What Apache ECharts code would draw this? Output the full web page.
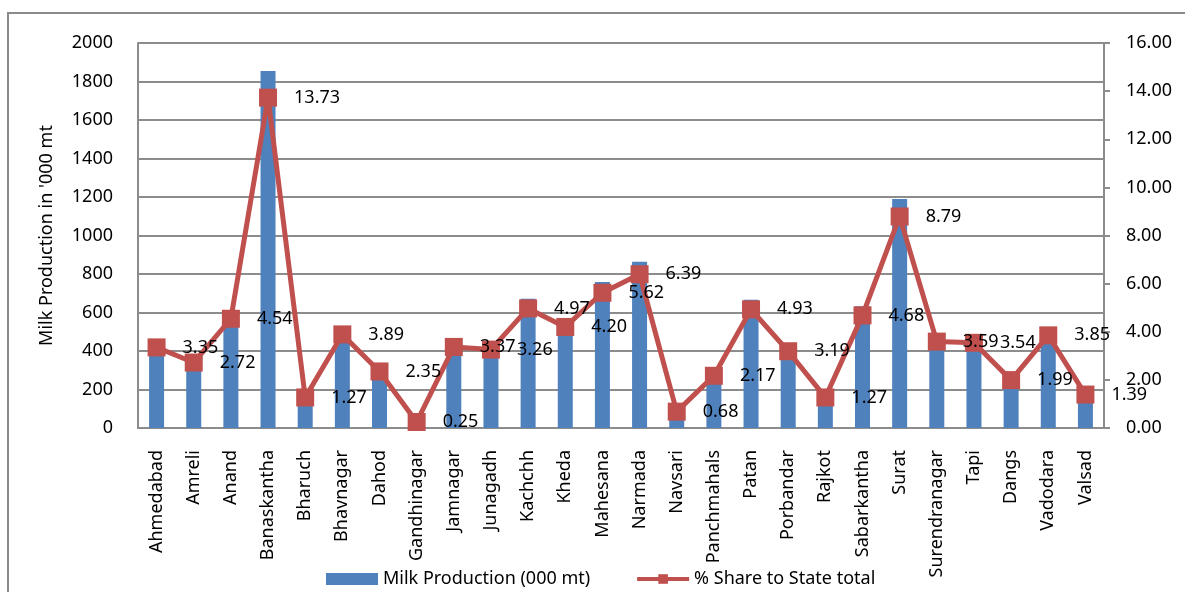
<!DOCTYPE html>
<html>
<head>
<meta charset="utf-8">
<script src="https://cdn.jsdelivr.net/npm/echarts@6/dist/echarts.min.js"></script>
<style>
  html, body { margin: 0; padding: 0; background: #fff; }
  #chart { width: 1185px; height: 592px; }
</style>
</head>
<body>
<div id="chart"></div>
<script>
// districts on the x axis
const districts = ['Ahmedabad', 'Amreli', 'Anand', 'Banaskantha', 'Bharuch', 'Bhavnagar', 'Dahod',
  'Gandhinagar', 'Jamnagar', 'Junagadh', 'Kachchh', 'Kheda', 'Mahesana', 'Narmada', 'Navsari',
  'Panchmahals', 'Patan', 'Porbandar', 'Rajkot', 'Sabarkantha', 'Surat', 'Surendranagar', 'Tapi',
  'Dangs', 'Vadodara', 'Valsad'];

// milk production, '000 mt (left axis)
const milkProduction = [452, 367, 613, 1855, 172, 526, 318, 34, 455, 440, 671, 567, 759, 864,
  92, 293, 666, 431, 172, 632, 1190, 485, 478, 269, 520, 188];

// % share to state total (right axis)
const shareToState = [3.35, 2.72, 4.54, 13.73, 1.27, 3.89, 2.35, 0.25, 3.37, 3.26, 4.97, 4.20,
  5.62, 6.39, 0.68, 2.17, 4.93, 3.19, 1.27, 4.68, 8.79, 3.59, 3.54, 1.99, 3.85, 1.39];

const FONT = 'Noto Sans';
const gridGrey = '#8c8c8c';

let myChart = echarts.init(document.getElementById('chart'));
let option = {
  animation: false,
  textStyle: { fontFamily: FONT, color: '#000' },
  graphic: [
    {
      type: 'rect',
      shape: { x: 8, y: 13, width: 1300, height: 700 },
      style: { fill: 'none', stroke: '#8a8a8a', lineWidth: 2 }
    }
  ],
  legend: {
    left: 321,
    top: 565,
    itemWidth: 52,
    itemHeight: 12,
    itemGap: 45,
    textStyle: { fontFamily: FONT, fontSize: 18, color: '#000' },
    data: [
      { name: 'Milk Production (000 mt)', icon: 'rect' },
      { name: '% Share to State total', lineStyle: { width: 4 } }
    ]
  },
  grid: { left: 138, right: 81, top: 43, bottom: 164 },
  xAxis: {
    type: 'category',
    data: districts,
    axisLine: { show: true, lineStyle: { color: gridGrey, width: 2 } },
    axisTick: { show: false },
    axisLabel: { interval: 0, rotate: 90, margin: 22, fontSize: 18, fontFamily: FONT, color: '#000' }
  },
  yAxis: [
    {
      type: 'value',
      min: 0,
      max: 2000,
      interval: 200,
      name: "Milk Production in '000 mt",
      nameLocation: 'middle',
      nameRotate: 90,
      nameGap: 82,
      nameTextStyle: { fontSize: 18, fontFamily: FONT, color: '#000' },
      axisLine: { show: true, lineStyle: { color: gridGrey, width: 2 } },
      axisTick: { show: false },
      axisLabel: { margin: 25, fontSize: 18, fontFamily: FONT, color: '#000', formatter: v => String(v) },
      splitLine: { show: true, lineStyle: { color: gridGrey, width: 2 } }
    },
    {
      type: 'value',
      min: 0,
      max: 16,
      interval: 2,
      position: 'right',
      axisLine: { show: true, lineStyle: { color: gridGrey, width: 2 } },
      axisTick: { show: true, length: 6, lineStyle: { color: gridGrey, width: 2 } },
      axisLabel: {
        margin: 22, fontSize: 18, fontFamily: FONT, color: '#000',
        formatter: v => v.toFixed(2)
      },
      splitLine: { show: false }
    }
  ],
  series: [
    {
      name: 'Milk Production (000 mt)',
      type: 'bar',
      yAxisIndex: 0,
      barWidth: 15,
      itemStyle: { color: '#4F81BD' },
      data: milkProduction
    },
    {
      name: '% Share to State total',
      type: 'line',
      yAxisIndex: 1,
      symbol: 'rect',
      symbolSize: 18,
      lineStyle: { color: '#C0504D', width: 5 },
      itemStyle: { color: '#C0504D' },
      label: {
        show: true,
        position: 'right',
        distance: 17,
        fontSize: 18,
        fontFamily: FONT,
        color: '#000',
        formatter: p => p.value.toFixed(2)
      },
      data: shareToState
    }
  ]
};
myChart.setOption(option);
</script>
</body>
</html>
